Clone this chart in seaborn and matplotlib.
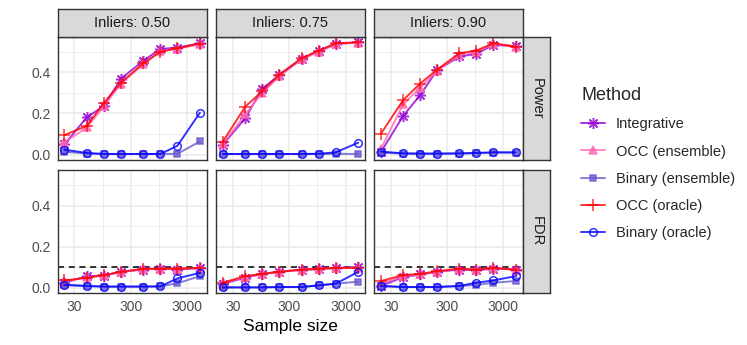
import numpy as np
import pandas as pd
import matplotlib
matplotlib.use("Agg")
import matplotlib.pyplot as plt
from matplotlib.lines import Line2D
from matplotlib.ticker import FixedLocator, NullFormatter
import seaborn as sns

#%% data
sample_sizes = [20, 50, 100, 200, 500, 1000, 2000, 5000]
inlier_levels = ["0.50", "0.75", "0.90"]
metrics = ["Power", "FDR"]
methods = ["Integrative", "OCC (ensemble)", "Binary (ensemble)", "OCC (oracle)", "Binary (oracle)"]
fdr_target = 0.1
x_ticks = [30, 300, 3000]
y_ticks = [0.0, 0.2, 0.4]

power_050 = {
    "Integrative":       [0.050, 0.182, 0.236, 0.369, 0.457, 0.514, 0.520, 0.541],
    "OCC (ensemble)":    [0.060, 0.132, 0.236, 0.345, 0.440, 0.503, 0.515, 0.536],
    "Binary (ensemble)": [0.014, 0.005, 0.003, 0.003, 0.003, 0.003, 0.004, 0.064],
    "OCC (oracle)":      [0.095, 0.140, 0.252, 0.350, 0.445, 0.500, 0.517, 0.540],
    "Binary (oracle)":   [0.024, 0.008, 0.003, 0.003, 0.003, 0.003, 0.043, 0.204],
}
power_075 = {
    "Integrative":       [0.048, 0.177, 0.321, 0.386, 0.466, 0.502, 0.538, 0.546],
    "OCC (ensemble)":    [0.052, 0.195, 0.300, 0.380, 0.463, 0.500, 0.537, 0.545],
    "Binary (ensemble)": [0.003, 0.003, 0.003, 0.003, 0.003, 0.003, 0.004, 0.003],
    "OCC (oracle)":      [0.063, 0.233, 0.308, 0.389, 0.469, 0.506, 0.541, 0.546],
    "Binary (oracle)":   [0.003, 0.003, 0.003, 0.003, 0.003, 0.004, 0.011, 0.058],
}
power_090 = {
    "Integrative":       [0.011, 0.188, 0.289, 0.410, 0.477, 0.490, 0.533, 0.528],
    "OCC (ensemble)":    [0.027, 0.244, 0.325, 0.408, 0.485, 0.500, 0.538, 0.525],
    "Binary (ensemble)": [0.010, 0.005, 0.004, 0.004, 0.005, 0.007, 0.010, 0.010],
    "OCC (oracle)":      [0.100, 0.265, 0.345, 0.413, 0.493, 0.506, 0.541, 0.525],
    "Binary (oracle)":   [0.015, 0.006, 0.005, 0.005, 0.006, 0.008, 0.011, 0.011],
}
fdr_050 = {
    "Integrative":       [0.024, 0.056, 0.059, 0.077, 0.088, 0.093, 0.088, 0.096],
    "OCC (ensemble)":    [0.030, 0.050, 0.060, 0.075, 0.090, 0.092, 0.092, 0.094],
    "Binary (ensemble)": [0.013, 0.008, 0.005, 0.005, 0.005, 0.006, 0.021, 0.056],
    "OCC (oracle)":      [0.035, 0.048, 0.061, 0.077, 0.092, 0.093, 0.093, 0.096],
    "Binary (oracle)":   [0.013, 0.008, 0.005, 0.005, 0.005, 0.006, 0.045, 0.072],
}
fdr_075 = {
    "Integrative":       [0.019, 0.048, 0.067, 0.077, 0.087, 0.090, 0.096, 0.100],
    "OCC (ensemble)":    [0.022, 0.052, 0.067, 0.077, 0.087, 0.091, 0.096, 0.098],
    "Binary (ensemble)": [0.001, 0.001, 0.001, 0.003, 0.003, 0.011, 0.019, 0.029],
    "OCC (oracle)":      [0.024, 0.056, 0.067, 0.077, 0.088, 0.092, 0.096, 0.096],
    "Binary (oracle)":   [0.001, 0.001, 0.001, 0.003, 0.003, 0.011, 0.019, 0.077],
}
fdr_090 = {
    "Integrative":       [0.008, 0.051, 0.064, 0.077, 0.088, 0.084, 0.093, 0.088],
    "OCC (ensemble)":    [0.019, 0.056, 0.064, 0.077, 0.092, 0.088, 0.096, 0.088],
    "Binary (ensemble)": [0.008, 0.003, 0.003, 0.003, 0.008, 0.013, 0.024, 0.032],
    "OCC (oracle)":      [0.032, 0.061, 0.067, 0.080, 0.093, 0.088, 0.096, 0.088],
    "Binary (oracle)":   [0.008, 0.003, 0.003, 0.003, 0.008, 0.024, 0.035, 0.056],
}

panels = {
    ("Power", "0.50"): power_050, ("Power", "0.75"): power_075, ("Power", "0.90"): power_090,
    ("FDR", "0.50"): fdr_050, ("FDR", "0.75"): fdr_075, ("FDR", "0.90"): fdr_090,
}

#%% long table
rows = []
for (metric, lev), d in panels.items():
    for m, vals in d.items():
        for n, v in zip(sample_sizes, vals):
            rows.append({"metric": metric, "inliers": lev, "method": m, "n": n, "value": v})
df = pd.DataFrame(rows)

#%% style
method_colors = {"Integrative": "#9400D3", "OCC (ensemble)": "#FF69B4",
                 "Binary (ensemble)": "#6A5ACD", "OCC (oracle)": "#FF0000",
                 "Binary (oracle)": "#0000FF"}
method_markers = {"Integrative": (8, 2, 0), "OCC (ensemble)": "^", "Binary (ensemble)": "s",
                  "OCC (oracle)": "+", "Binary (oracle)": "o"}
method_msize = {"Integrative": 8, "OCC (ensemble)": 5.5, "Binary (ensemble)": 4.5,
                "OCC (oracle)": 9, "Binary (oracle)": 5.5}
method_filled = {"Integrative": True, "OCC (ensemble)": True, "Binary (ensemble)": True,
                 "OCC (oracle)": True, "Binary (oracle)": False}

sns.set_style("white")
plt.rcParams['font.family'] = ['Liberation Sans', 'DejaVu Sans']

W, H = 747, 345
fig = plt.figure(figsize=(W / 100, H / 100), dpi=100)

def box(x0, y0, x1, y1):
    return [x0 / W, 1 - y1 / H, (x1 - x0) / W, (y1 - y0) / H]

col_x = [(57.7, 206.7), (216, 365), (374, 522.5)]
row_y = [(36.7, 160), (170, 293)]
border = '#333333'
grid_col = '#EBEBEB'

logs = np.log10(sample_sizes)
pad = 0.05 * (logs.max() - logs.min())
xlim = (10 ** (logs.min() - pad), 10 ** (logs.max() + pad))
ymin, ymax = df["value"].min(), df["value"].max()
ypad = 0.05 * (ymax - ymin)
ylim = (ymin - ypad, ymax + ypad)

for r, metric in enumerate(metrics):
    for c, lev in enumerate(inlier_levels):
        ax = fig.add_axes(box(col_x[c][0], row_y[r][0], col_x[c][1], row_y[r][1]))
        ax.set_xscale('log')
        sub = df[(df.metric == metric) & (df.inliers == lev)]
        if metric == "FDR":
            ax.axhline(fdr_target, ls=(0, (4, 3)), color='black', lw=1.1, zorder=1.5)
        for m in methods:
            col = method_colors[m]
            sns.lineplot(data=sub[sub.method == m], x="n", y="value", ax=ax,
                         color=col, lw=1.4, alpha=0.8,
                         marker=method_markers[m], markersize=method_msize[m],
                         markeredgecolor=col, markeredgewidth=1.1,
                         markerfacecolor=col if method_filled[m] else 'none',
                         legend=False, zorder=2)
        ax.set_xlim(xlim)
        ax.set_ylim(ylim)
        ax.set_xlabel("")
        ax.set_ylabel("")
        ax.xaxis.set_major_locator(FixedLocator(x_ticks))
        ax.xaxis.set_minor_locator(FixedLocator([np.sqrt(x_ticks[0] * x_ticks[1]),
                                                 np.sqrt(x_ticks[1] * x_ticks[2])]))
        ax.xaxis.set_minor_formatter(NullFormatter())
        ax.yaxis.set_major_locator(FixedLocator(y_ticks))
        ax.yaxis.set_minor_locator(FixedLocator([0.1, 0.3, 0.5]))
        ax.set_xticklabels([str(t) for t in x_ticks])
        ax.set_yticklabels([f"{t:.1f}" for t in y_ticks])
        ax.grid(which='major', color=grid_col, lw=1.1)
        ax.grid(which='minor', color=grid_col, lw=0.6)
        ax.set_axisbelow(True)
        for s in ax.spines.values():
            s.set_color(border)
            s.set_linewidth(1.0)
        ax.tick_params(which='minor', length=0)
        ax.tick_params(which='major', length=3, color=border, width=0.8,
                       labelsize=10, labelcolor='#4D4D4D', pad=2)
        if r == 0:
            ax.tick_params(axis='x', length=0, labelbottom=False)
        if c > 0:
            ax.tick_params(axis='y', length=0, labelleft=False)

        # top strips
        if r == 0:
            st = fig.add_axes(box(col_x[c][0], 9, col_x[c][1], row_y[0][0]))
            st.set_facecolor('#D9D9D9')
            st.set_xticks([]); st.set_yticks([])
            for s in st.spines.values():
                s.set_color(border); s.set_linewidth(1.0)
            st.text(0.5, 0.48, f"Inliers: {lev}", ha='center', va='center',
                    fontsize=10.5, color='#1A1A1A', transform=st.transAxes)
        # right strips
        if c == 2:
            st = fig.add_axes(box(522.5, row_y[r][0], 550, row_y[r][1]))
            st.set_facecolor('#D9D9D9')
            st.set_xticks([]); st.set_yticks([])
            for s in st.spines.values():
                s.set_color(border); s.set_linewidth(1.0)
            st.text(0.5, 0.5, metric, ha='center', va='center', rotation=270,
                    fontsize=10.5, color='#1A1A1A', transform=st.transAxes)

fig.text(290 / W, 1 - 326 / H, "Sample size", ha='center', va='center', fontsize=12.5, color='black')

handles = [Line2D([], [], color=method_colors[m], lw=1.4, alpha=0.8,
                  marker=method_markers[m], markersize=method_msize[m],
                  markeredgecolor=method_colors[m], markeredgewidth=1.1,
                  markerfacecolor=method_colors[m] if method_filled[m] else 'none')
           for m in methods]
leg = fig.legend(handles, methods, title="Method", loc='upper left',
                 bbox_to_anchor=(574 / W, 1 - 80 / H), frameon=False,
                 fontsize=10.5, title_fontsize=13, handlelength=1.6,
                 handletextpad=0.75, labelspacing=0.9, borderpad=0,
                 alignment='left')

fig.savefig("out.png", dpi=100)
